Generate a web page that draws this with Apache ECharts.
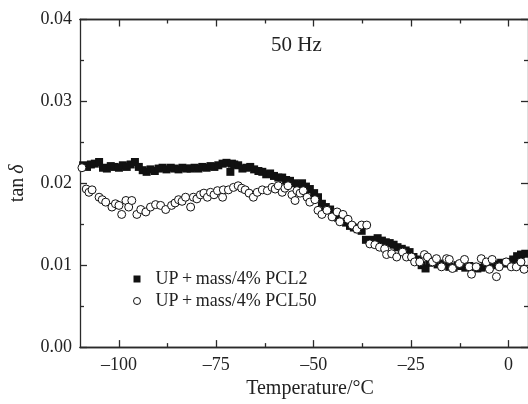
<!DOCTYPE html>
<html>
<head>
<meta charset="utf-8">
<script src="https://cdn.jsdelivr.net/npm/echarts@6/dist/echarts.min.js"></script>
<style>html,body{margin:0;padding:0;background:#fff;}#c{width:528px;height:404px;}</style>
</head>
<body>
<div id="c"></div>
<script>
// Series: UP + mass/4% PCL2 (filled squares)
const pcl2T = [-109.2,-108.2,-107.2,-106.2,-105.1,-104.1,-103.1,-102.1,-101.1,-100,-99,-98,-97,-95.9,-94.9,-93.9,-92.9,-91.9,-90.8,-89.8,-88.8,-87.8,-86.7,-85.7,-84.7,-83.7,-82.6,-81.6,
  -80.6,-79.6,-78.6,-77.5,-76.5,-75.5,-74.5,-73.4,-72.4,-71.4,-71.0,
  -70.4,-69.4,-68.3,-67.3,-66.3,-65.3,-64.2,-63.2,-62.2,-61.2,-60.2,-59.1,-58.1,-57.1,-56.1,-55.0,-54.0,-53.0,-52.0,-51.0,-49.9,-48.9,-47.9,-46.9,-45.8,-44.8,-43.8,-42.8,-41.7,-40.7,-39.7,-38.7,-37.7,-36.6,-35.6,-34.6,-33.6,-32.5,-31.5,-30.5,-29.5,-28.5,-27.4,-26.4,-25.4,-24.4,-23.3,-22.3,-21.3,-20.3,-19.3,-18.2,-17.2,-16.2,-15.2,-14.1,-13.1,-12.1,-11.1,-10.1,-9.0,-8.0,-7.0,-6.0,-4.9,-3.9,-2.9,-1.9,-0.9,0.1,1.2,2.2,3.2,4.3];
const pcl2V = [0.0222,0.0220,0.0223,0.0224,0.0226,0.0219,0.0218,0.0221,0.0220,0.0219,0.0222,0.0220,0.0223,0.0226,0.0220,0.0216,0.0214,0.0217,0.0215,0.0218,0.0219,0.0217,0.0219,0.0218,0.0217,0.0219,0.0218,0.0218,
  0.0219,0.0218,0.0220,0.0219,0.0221,0.0220,0.0222,0.0224,0.0225,0.0214,0.0224,
  0.0223,0.0222,0.0218,0.0219,0.0220,0.0217,0.0215,0.0214,0.0211,0.0212,0.0209,0.0207,0.0207,0.0204,0.0203,0.0200,0.0198,0.0200,0.0196,0.0193,0.0188,0.0183,0.0175,0.0171,0.0168,0.0162,0.0158,0.0155,0.0152,0.0148,0.0146,0.0144,0.0142,0.0131,0.0130,0.0131,0.0133,0.0130,0.0128,0.0127,0.0125,0.0122,0.0120,0.0118,0.0116,0.0110,0.0107,0.0100,0.0096,0.0103,0.0104,0.0101,0.0102,0.0100,0.0098,0.0097,0.0100,0.0099,0.0097,0.0099,0.0098,0.0096,0.0097,0.0099,0.0098,0.0100,0.0101,0.0103,0.0102,0.0104,0.0107,0.0111,0.0113,0.0114];

// Series: UP + mass/4% PCL50 (open circles)
const pcl50T = [-109.5,-108.4,-107.7,-106.9,-105.1,-104.3,-103.4,-101.8,-100.9,-100.0,-99.3,-98.2,-97.5,-96.7,-95.4,-94.4,-93.1,-91.9,-90.6,-89.3,-88.0,-86.5,-85.6,-84.7,-83.8,-82.9,-81.6,-80.9,-80.0,-79.1,-78.2,-77.3,-76.5,-75.6,-74.7,-73.4,-73.2,-71.9,-70.6,-69.4,-68.5,-67.6,-66.6,-65.5,-64.5,-63.2,-61.9,-60.7,-59.9,-59.1,-58.1,-57.4,-56.6,-55.6,-54.8,-54.3,-53.5,-52.7,-51.7,-51.0,-49.7,-48.9,-47.9,-46.6,-45.3,-44.0,-43.3,-42.5,-41.2,-40.2,-38.9,-37.7,-36.4,-35.6,-34.3,-33.1,-31.8,-31.3,-30.0,-28.7,-27.2,-26.2,-24.9,-24.1,-22.8,-21.6,-20.8,-19.5,-18.5,-17.2,-15.9,-15.2,-14.4,-12.6,-11.3,-10.1,-9.5,-8.3,-7.0,-5.7,-4.9,-4.2,-3.1,-2.4,-0.6,0.7,2.0,3.2,4.0];
const pcl50V = [0.0219,0.0193,0.0189,0.0192,0.0183,0.0180,0.0177,0.0171,0.0175,0.0173,0.0162,0.0179,0.0171,0.0179,0.0162,0.0168,0.0165,0.0171,0.0174,0.0173,0.0168,0.0173,0.0176,0.0180,0.0178,0.0183,0.0171,0.0183,0.0181,0.0186,0.0188,0.0183,0.0189,0.0186,0.0191,0.0183,0.0192,0.0192,0.0195,0.0197,0.0194,0.0192,0.0188,0.0183,0.0189,0.0192,0.0191,0.0195,0.0193,0.0197,0.0189,0.0194,0.0197,0.0186,0.0179,0.0191,0.0188,0.0191,0.0183,0.0177,0.0180,0.0167,0.0162,0.0167,0.0159,0.0165,0.0153,0.0162,0.0156,0.0149,0.0144,0.0149,0.0149,0.0126,0.0125,0.0122,0.0120,0.0113,0.0114,0.0110,0.0116,0.0110,0.0110,0.0104,0.0104,0.0113,0.0110,0.0104,0.0108,0.0098,0.0108,0.0107,0.0096,0.0102,0.0107,0.0098,0.0089,0.0098,0.0108,0.0104,0.0095,0.0107,0.0086,0.0098,0.0104,0.0098,0.0098,0.0104,0.0095];

// Axis ticks
const xMajor = [-100, -75, -50, -25, 0];
const xMinor = [-87.5, -62.5, -37.5, -12.5];
const seriesNames = ['UP\u2009+\u2009mass/4% PCL2', 'UP\u2009+\u2009mass/4% PCL50'];

const FONT = 'Liberation Serif';
const AX = '#2a2a2a';
const chart = echarts.init(document.getElementById('c'), null, {renderer: 'canvas'});

function xAx(pos, vals, len, labels) {
  return {
    type: 'value', position: pos, min: -110, max: 5,
    axisLine: {show: true, onZero: false, lineStyle: {color: AX, width: 1.3}},
    axisTick: {show: true, inside: true, length: len, customValues: vals, lineStyle: {color: AX, width: 1.3}},
    axisLabel: labels ? {show: true, customValues: vals, margin: 9, color: '#222', fontFamily: FONT, fontSize: 18,
      formatter: v => String(v).replace('-', '\u2013')} : {show: false},
    splitLine: {show: false}
  };
}
function yAx(pos, labels) {
  return {
    type: 'value', position: pos, min: 0, max: 0.04, interval: 0.01,
    axisLine: {show: true, onZero: false, lineStyle: {color: AX, width: 1.3}},
    axisTick: {show: true, inside: true, length: 7, lineStyle: {color: AX, width: 1.3}},
    minorTick: {show: true, splitNumber: 2, length: 4, lineStyle: {color: AX, width: 1.3}},
    axisLabel: labels ? {show: true, margin: 8, color: '#222', fontFamily: FONT, fontSize: 18,
      formatter: v => v.toFixed(2)} : {show: false},
    splitLine: {show: false}
  };
}

const xa0 = xAx('bottom', xMajor, 7, true);
xa0.name = 'Temperature/\u00B0C';
xa0.nameLocation = 'middle';
xa0.nameGap = 29;
xa0.nameTextStyle = {fontFamily: FONT, fontSize: 20, color: '#222', padding: [0, 0, 0, 12]};
const ya0 = yAx('left', true);
ya0.name = 'tan\u2009{i|\u03B4}';
ya0.nameLocation = 'middle';
ya0.nameGap = 52;
ya0.nameRotate = 90;
ya0.nameTextStyle = {fontFamily: FONT, fontSize: 20, color: '#222',
  rich: {i: {fontFamily: FONT, fontSize: 20, fontStyle: 'italic', color: '#222'}}};

const option = {
  animation: false,
  backgroundColor: '#fff',
  grid: {left: 79, top: 19.5, width: 449.5, height: 332.2, containLabel: false},
  xAxis: [xa0, xAx('bottom', xMinor, 4, false), xAx('top', xMajor, 7, false), xAx('top', xMinor, 4, false)],
  yAxis: [ya0, yAx('right', false)],
  legend: {
    orient: 'vertical', left: 128, top: 265, itemGap: 4, itemWidth: 7, itemHeight: 7,
    textStyle: {fontFamily: FONT, fontSize: 18, color: '#222', padding: [0, 0, 0, 10]},
    data: [
      {name: seriesNames[0], icon: 'rect', itemStyle: {color: '#111', borderWidth: 0}},
      {name: seriesNames[1], icon: 'circle', itemStyle: {color: '#fff', borderColor: '#111', borderWidth: 1}}
    ]
  },
  graphic: [{type: 'text', left: 271, top: 35, style: {text: '50 Hz', fontFamily: FONT, fontSize: 21, fill: '#222'}}],
  series: [
    {name: seriesNames[0], type: 'scatter', symbol: 'rect', symbolSize: 8,
      itemStyle: {color: '#111', opacity: 1}, data: pcl2T.map((t, i) => [t, pcl2V[i]])},
    {name: seriesNames[1], type: 'scatter', symbol: 'circle', symbolSize: 8,
      itemStyle: {color: '#fff', borderColor: '#111', borderWidth: 1, opacity: 1}, data: pcl50T.map((t, i) => [t, pcl50V[i]])}
  ]
};
chart.setOption(option);
</script>
</body>
</html>
